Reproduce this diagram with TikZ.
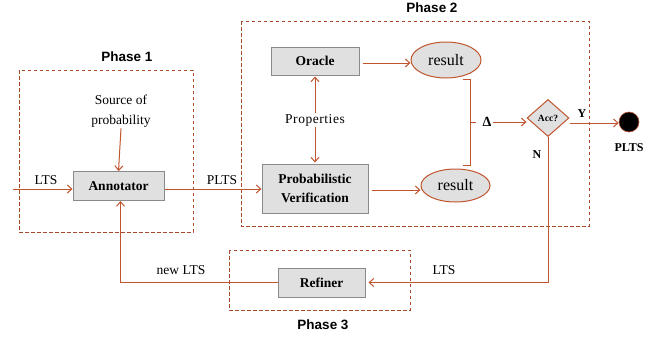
\documentclass[tikz,border=0pt]{standalone}
\usepackage{fontspec}
\setmainfont{Liberation Serif}
\setsansfont{Liberation Sans}
\usetikzlibrary{arrows.meta,shapes.geometric}
\definecolor{rust}{HTML}{C0552E}
\definecolor{phase}{HTML}{A9492C}
\definecolor{boxfill}{HTML}{E0E0E0}
\definecolor{boxline}{HTML}{8A8A8A}
\tikzset{
  arr/.style={draw=rust, line width=1pt, -{Straight Barb[length=4.5pt,width=8pt]}},
  link/.style={draw=rust, line width=1pt},
  procbox/.style={draw=boxline, fill=boxfill, line width=1pt, font=\bfseries\fontsize{13.5}{19}\selectfont, align=center, inner sep=0pt},
  resnode/.style={ellipse, draw=rust, fill=boxfill, line width=1pt, font=\fontsize{16}{18}\selectfont, inner sep=0pt},
  phasebox/.style={draw=phase, dashed, line width=0.9pt, dash pattern=on 3.5pt off 2.5pt},
  phaselabel/.style={font=\sffamily\bfseries\fontsize{13.5}{15}\selectfont},
  lbl/.style={font=\fontsize{13.5}{20}\selectfont, align=center, inner sep=1pt},
  blbl/.style={font=\bfseries\fontsize{12}{14}\selectfont, inner sep=1pt}
}
\begin{document}
\begin{tikzpicture}[x=1pt,y=-1pt]
\useasboundingbox (0,0) rectangle (664,340);

% phase frames
\draw[phasebox] (19,70) rectangle (193,232);
\draw[phasebox] (241,21) rectangle (589,226);
\draw[phasebox] (229,250) rectangle (410,310);
\node[phaselabel] (ph1) at (127,57) {Phase 1};
\node[phaselabel] (ph2) at (432,8) {Phase 2};
\node[phaselabel] (ph3) at (323,325) {Phase 3};

% process boxes
\node[procbox, minimum width=91pt, minimum height=29pt] (ann) at (118.5,186) {Annotator};
\node[procbox, minimum width=106pt, minimum height=49pt] (pv) at (315,188.5) {Probabilistic\\Verification};
\node[procbox, minimum width=88pt, minimum height=28pt] (ora) at (315,61) {Oracle};
\node[procbox, minimum width=87pt, minimum height=29pt] (ref) at (321.5,282.5) {Refiner};

% results and decision
\node[resnode, minimum width=70pt, minimum height=36pt] (res1) at (446,60) {result};
\node[resnode, minimum width=69pt, minimum height=33pt] (res2) at (455.5,185.5) {result};
\node[diamond, draw=rust, fill=boxfill, line width=1pt, inner sep=0pt,
      minimum width=42pt, minimum height=37pt, font=\bfseries\fontsize{9.5}{10}\selectfont] (acc) at (548,118) {Acc?};
\node[circle, fill=black, draw=rust, line width=0.6pt, minimum size=20pt, inner sep=0pt] (sink) at (629,122) {};

% text labels
\node[lbl] (src) at (121,111) {Source of\\probability};
\node[lbl, font=\addfontfeatures{LetterSpace=4}\fontsize{13.5}{20}\selectfont] (prop) at (315,120) {Properties};
\node[lbl] (tin) at (46,180) {LTS};
\node[lbl] (tplts) at (222,180) {PLTS};
\node[lbl] (tlts) at (444,270) {LTS};
\node[lbl] (tnew) at (181,270) {new LTS};
\node[blbl] (tn) at (537,155) {N};
\node[blbl] (ty) at (582,114) {Y};
\node[blbl] (tout) at (629,148) {PLTS};
\node[font=\bfseries\fontsize{14}{15}\selectfont, inner sep=1pt] (delta) at (487,122) {Δ};

% input
\coordinate (lin) at (13,189);
\draw[arr] (lin) -- (lin -| ann.west);

% flow
\draw[arr] (ann.east |- 0,189) -- (pv.west |- 0,189);
\draw[arr] (src.south) -- (ann.north);
\draw[arr] (prop.north) -- ([yshift=-1pt]ora.south);
\draw[arr] (prop.south) -- ([yshift=1pt]pv.north);
\draw[arr, shorten <=3pt] (ora.east |- 0,63) -- (res1.west |- 0,63);
\draw[arr, shorten <=3pt] (pv.east |- 0,190) -- (res2.west |- 0,190);

% comparison bracket
\draw[link] (463,79) -- (470,79) -- (470,165) -- (463,165);
\draw[link] (470,122) -- (476,122);
\draw[arr] (delta.east) -- (acc.west |- delta.east);

% decision outcomes
\draw[arr] (acc.east |- 0,123) -- (sink.west |- 0,123);
\draw[arr, shorten >=3pt] (acc.south) |- (ref.east);
\draw[arr] (ref.west) -| ([xshift=2pt]ann.south);
\end{tikzpicture}
\end{document}
